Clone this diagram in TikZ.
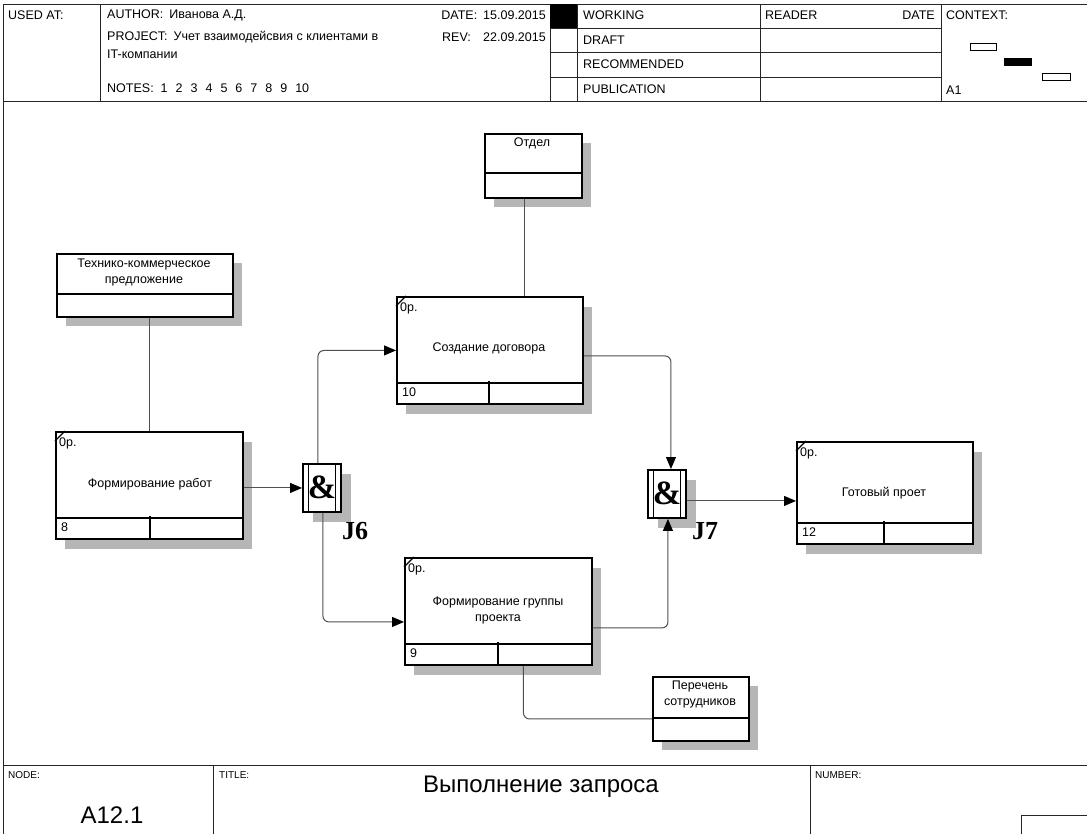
\documentclass[tikz,border=0pt]{standalone}
\usepackage{fontspec}
\setmainfont{Liberation Sans}
\newfontfamily\jfont{Liberation Serif}
\usetikzlibrary{arrows.meta,calc}

\definecolor{shadowgray}{RGB}{182,182,182}
\definecolor{linegray}{RGB}{80,80,80}

% unit of work: name, x, y, width, height, x of bottom divider, number
\newcommand{\UnitOfWork}[7]{%
  \fill[shadowgray] (#2+10,#3+11) rectangle ++(#4,#5);
  \node[box, minimum width=#4pt, minimum height=#5pt] (#1) at (#2,#3) {};
  \draw[inner] ([yshift=22pt]#1.south west) -- ([yshift=22pt]#1.south east);
  \draw[inner] (#6,#3+#5) -- (#6,#3+#5-22);
  \draw[diag] ([yshift=-10pt]#1.north west) -- ([xshift=10pt]#1.north west);
  \node[txt, anchor=west] at (#2+4,#3+12) {0р.};
  \node[txt, anchor=west] at (#2+6,#3+#5-11) {#7};
}
% referent box: name, x, y, width, height, divider depth from top
\newcommand{\RefBox}[6]{%
  \fill[shadowgray] (#2+10,#3+10) rectangle ++(#4,#5);
  \node[box, minimum width=#4pt, minimum height=#5pt] (#1) at (#2,#3) {};
  \draw[inner] (#2,#3+#6) -- (#2+#4,#3+#6);
}
% junction: name, x, y
\newcommand{\AndJunction}[3]{%
  \fill[shadowgray] (#2+11,#3+11) rectangle ++(38,48);
  \node[box, minimum width=38pt, minimum height=48pt] (#1) at (#2,#3) {};
  \draw[inner] ([xshift=6.5pt]#1.north west) -- ([xshift=6.5pt]#1.south west);
  \draw[inner] ([xshift=-6.5pt]#1.north east) -- ([xshift=-6.5pt]#1.south east);
  \node[inner sep=0pt, font=\jfont\bfseries\fontsize{34}{34}\selectfont] at ([yshift=1pt]#1.center) {\&};
}

\begin{document}
\begin{tikzpicture}[x=1pt,y=-1pt,
  txt/.style={inner sep=0pt, font=\fontsize{12.5}{16}\selectfont},
  hdr/.style={txt, anchor=west},
  frame/.style={draw=black!85, line width=0.9pt},
  box/.style={draw=black, line width=1.9pt, fill=white, inner sep=0pt, anchor=north west},
  inner/.style={draw=black, line width=1.5pt},
  diag/.style={draw=black, line width=1.2pt},
  conn/.style={draw=linegray, line width=1pt, rounded corners=6pt},
  arr/.style={conn, -{Triangle[length=12pt,width=10pt,color=black]}},
  jlabel/.style={inner sep=0pt, font=\jfont\bfseries\fontsize{26}{26}\selectfont}]

\useasboundingbox (0,0) rectangle (1087,834);
\fill[white] (0,0) rectangle (1087,834);

% ---------- frame and header ----------
\draw[frame] (3,4) rectangle (1087,836);
\draw[frame] (3,101) -- (1087,101);
\draw[frame] (100,4) -- (100,101);
\draw[frame] (550,4) -- (550,101);
\draw[frame] (577,4) -- (577,101);
\draw[frame] (760,4) -- (760,101);
\draw[frame] (941,4) -- (941,101);
\foreach \yy in {28,52,77} \draw[frame] (550,\yy) -- (941,\yy);
\fill[black] (550,4) rectangle (577,28);

\node[hdr] (usedat) at (8,15) {USED AT:};
\node[hdr] (author) at (107,15) {AUTHOR:\hspace{6pt}Иванова А.Д.};
\node[hdr] (project) at (107,37) {PROJECT:\hspace{6pt}Учет взаимодейсвия с клиентами в};
\node[hdr] (project2) at (107,54) {IT-компании};
\node[hdr] (notes) at (107,88) {NOTES:\hspace{7pt}1\hspace{8pt}2\hspace{8pt}3\hspace{8pt}4\hspace{8pt}5\hspace{8pt}6\hspace{8pt}7\hspace{8pt}8\hspace{8pt}9\hspace{8pt}10};
\node[txt, anchor=east] (date) at (546,15) {DATE:\hspace{6pt}15.09.2015};
\node[hdr] (rev) at (442,37) {REV:};
\node[txt, anchor=east] (revdate) at (546,37) {22.09.2015};
\node[hdr] (working) at (583,15) {WORKING};
\node[hdr] (draft) at (583,40) {DRAFT};
\node[hdr] (recom) at (583,64) {RECOMMENDED};
\node[hdr] (public) at (583,89) {PUBLICATION};
\node[hdr] (reader) at (765,15) {READER};
\node[txt, anchor=east] (rdate) at (935,15) {DATE};
\node[hdr] (context) at (946,15) {CONTEXT:};
\node[hdr] (ctxa1) at (946,90) {A1};
\draw[black, line width=0.9pt] (970,43) rectangle (996,50);
\fill[black] (1004,58) rectangle (1032,66);
\draw[black, line width=0.9pt] (1042,73) rectangle (1070,80);

% ---------- footer ----------
\draw[frame] (3,765) -- (1087,765);
\draw[frame] (213,765) -- (213,836);
\draw[frame] (810,765) -- (810,836);
\draw[frame] (1021,836) -- (1021,815) -- (1087,815);
\node[txt, anchor=west, font=\fontsize{10}{12}\selectfont] (nodelbl) at (8,775) {NODE:};
\node[txt, anchor=west, font=\fontsize{10}{12}\selectfont] (titlelbl) at (219,775) {TITLE:};
\node[txt, anchor=west, font=\fontsize{10}{12}\selectfont] (numlbl) at (815,775) {NUMBER:};
\node[inner sep=0pt, font=\fontsize{24}{26}\selectfont] (title) at (541,787) {Выполнение запроса};
\node[inner sep=0pt, font=\fontsize{24}{26}\selectfont] (nodeid) at (112,815) {A12.1};

% ---------- referents ----------
\RefBox{otd}{484}{133}{97}{64}{40}
\node[txt] (otdt) at (532,143) {Отдел};
\RefBox{tkp}{56}{253}{176}{63}{41}
\node[txt, align=center] (tkpt) at (144,272) {Технико-коммерческое\\предложение};
\RefBox{per}{652}{676}{96}{64}{42}
\node[txt, align=center] (pert) at (700,694) {Перечень\\сотрудников};

% ---------- units of work ----------
\UnitOfWork{fr}{55}{431}{187}{107}{150}{8}
\node[txt] (frt) at (150,484) {Формирование работ};
\UnitOfWork{sd}{396}{296}{186}{107}{489}{10}
\node[txt] (sdt) at (489,348) {Создание договора};
\UnitOfWork{fg}{404}{557}{187}{107}{498}{9}
\node[txt, align=center] (fgt) at (498,610) {Формирование группы\\проекта};
\UnitOfWork{gp}{796}{441}{176}{102}{884}{12}
\node[txt] (gpt) at (884,493) {Готовый проет};

% ---------- junctions ----------
\AndJunction{j6}{302}{463}
\node[jlabel] (j6l) at (355,531) {J6};
\AndJunction{j7}{647}{469}
\node[jlabel] (j7l) at (705,531) {J7};

% ---------- connectors ----------
\draw[conn] (fr.north) -- (fr.north |- tkp.south);
\draw[conn] ([xshift=-9pt]otd.south) -- ([xshift=-9pt]otd.south |- sd.north);
\draw[arr] (j6.west -| fr.east) -- (j6.west);
\draw[arr] ([xshift=-4pt]j6.north) |- (sd.west);
\draw[arr] ([xshift=1pt]j6.south) |- ([yshift=-10.5pt]fg.west);
\draw[arr] ([yshift=-5.5pt]sd.east) -| ([xshift=4pt]j7.north);
\draw[arr] ([yshift=-16.5pt]fg.east) -| ([xshift=1pt]j7.south);
\draw[arr] ([yshift=-7pt]j7.east) -- ([yshift=-7pt]j7.east -| gp.west);
\draw[conn] ([xshift=25pt]fg.south) |- ([yshift=-10pt]per.west);

\end{tikzpicture}
\end{document}
